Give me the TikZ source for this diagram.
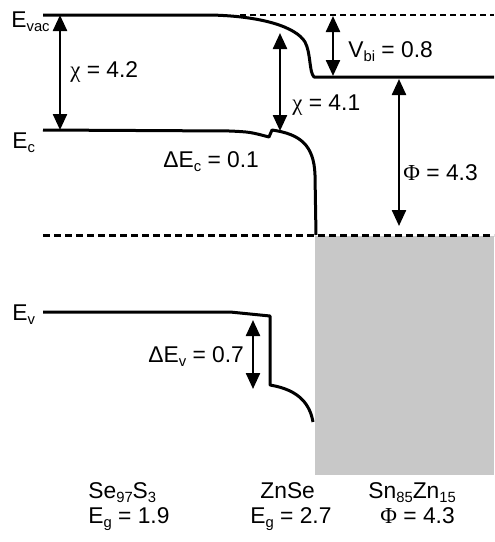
\documentclass[tikz,border=0pt]{standalone}
\usepackage{fontspec}
\setmainfont{Liberation Sans}
\newfontfamily\grk{Liberation Serif}
\usetikzlibrary{arrows.meta}
\definecolor{metal}{RGB}{200,200,200}
\newcommand\lowsub[1]{\raisebox{-2.4pt}{\fontsize{7.4}{8}\selectfont #1}}
\tikzset{
  lbl/.style={anchor=base west,inner sep=0pt,font=\fontsize{11.4}{13}\selectfont},
  band/.style={line width=1.5pt,line join=round},
  dim/.style={line width=1.2pt,{Triangle[width=7pt,length=8pt]}-{Triangle[width=7pt,length=8pt]}},
  fermi/.style={line width=1.5pt,dash pattern=on 3.5pt off 2pt},
  vacdash/.style={line width=0.7pt,dash pattern=on 3pt off 2pt}
}
\begin{document}
\begin{tikzpicture}[x=0.5pt,y=-0.5pt]
\useasboundingbox (0,0) rectangle (494,542);
% metal
\fill[metal] (315,236) rectangle (494,475);
% dashed lines
\draw[vacdash] (240,15) -- (494,15);
\draw[fermi] (43,235) -- (494,235);
% bands
\draw[band] (43,15) -- (210,15) .. controls (262,16) and (296,27) .. (305,42)
  .. controls (311,53) and (309,72) .. (314,77) -- (494,77);
\draw[band] (43,130) -- (230,131) .. controls (250,132) .. (269,137) -- (272,130)
  .. controls (300,134) and (314,145) .. (315,175) -- (316,235);
\draw[band] (43,312) -- (230,312) .. controls (250,313) .. (270,316) -- (270,385)
  .. controls (300,390) and (310,405) .. (313,422);
% arrow end points
\coordinate (c42t) at (60,15);  \coordinate (c42b) at (60,130);
\coordinate (c41t) at (280,33); \coordinate (c41b) at (280,131);
\coordinate (vbt) at (333,16);  \coordinate (vbb) at (333,76);
\coordinate (pht) at (399,79);  \coordinate (phb) at (399,226);
\coordinate (evt) at (253,320); \coordinate (evb) at (253,389);
\draw[dim] (c42t) -- (c42b);
\draw[dim] (c41t) -- (c41b);
\draw[dim] (vbt) -- (vbb);
\draw[dim] (pht) -- (phb);
\draw[dim] (evt) -- (evb);
% labels
\node[lbl] (evac) at (11,27) {E\lowsub{vac}};
\node[lbl] (ec) at (12,148) {E\lowsub{c}};
\node[lbl] (ev) at (12,320) {E\lowsub{v}};
\node[lbl] (chi1) at (70,77) {{\grk χ} = 4.2};
\node[lbl] (chi2) at (292,110) {{\grk χ} = 4.1};
\node[lbl] (dec) at (163,167) {ΔE\lowsub{c} = 0.1};
\node[lbl] (vbi) at (348,57) {V\lowsub{bi} = 0.8};
\node[lbl] (phi) at (403,180) {{\grk Φ} = 4.3};
\node[lbl] (dev) at (148,362) {ΔE\lowsub{v} = 0.7};
\node[lbl] (m1) at (88,498) {Se\lowsub{97}S\lowsub{3}};
\node[lbl] (m2) at (260,498) {ZnSe};
\node[lbl] (m3) at (368,498) {Sn\lowsub{85}Zn\lowsub{15}};
\node[lbl] (g1) at (88,523) {E\lowsub{g} = 1.9};
\node[lbl] (g2) at (250,523) {E\lowsub{g} = 2.7};
\node[lbl] (g3) at (380,523) {{\grk Φ} = 4.3};
\end{tikzpicture}
\end{document}
